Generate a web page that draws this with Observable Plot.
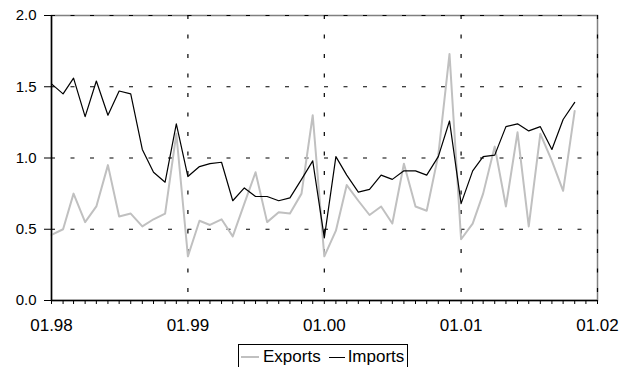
<!DOCTYPE html>
<html>
<head>
<meta charset="utf-8">
<script src="https://cdn.jsdelivr.net/npm/d3@7"></script>
<script src="https://cdn.jsdelivr.net/npm/@observablehq/plot@0.6"></script>
<style>
  html, body { margin: 0; padding: 0; background: #fff; }
  body { width: 622px; height: 367px; overflow: hidden; font-family: "Liberation Sans", Arial, sans-serif; }
  #legend {
    position: absolute; left: 238px; top: 344px; width: 170px; height: 26px;
    border: 1px solid #000; box-sizing: border-box; background: #fff;
    display: flex; align-items: center; padding-left: 2px;
    font-size: 17px; color: #000; white-space: nowrap;
  }
  #legend .sw { display: inline-block; height: 0; }
</style>
</head>
<body>
<div id="chart"></div>
<div id="legend">
  <span class="sw" style="width:18px;border-top:2px solid #c0c0c0;margin-right:4px"></span><span>Exports</span>
  <span class="sw" style="width:16px;border-top:1.5px solid #000;margin-left:8px;margin-right:3px"></span><span>Imports</span>
</div>
<script>
// Monthly series, starting January 1998
const startYear = 1998;
const exports = [0.46,0.50,0.75,0.55,0.66,0.95,0.59,0.61,0.52,0.57,0.61,1.17,
                 0.31,0.56,0.53,0.57,0.45,0.68,0.90,0.55,0.62,0.61,0.75,1.30,
                 0.31,0.49,0.81,0.70,0.60,0.66,0.54,0.96,0.66,0.63,1.02,1.73,
                 0.43,0.54,0.75,1.08,0.66,1.18,0.52,1.17,0.98,0.77,1.33];
const imports = [1.52,1.45,1.56,1.29,1.54,1.30,1.47,1.45,1.06,0.90,0.83,1.24,
                 0.87,0.94,0.96,0.97,0.70,0.79,0.73,0.73,0.70,0.72,0.85,0.98,
                 0.44,1.01,0.88,0.76,0.78,0.88,0.85,0.91,0.91,0.88,1.01,1.26,
                 0.68,0.91,1.01,1.02,1.22,1.24,1.19,1.22,1.06,1.27,1.39];
const yTicks = [0, 0.5, 1.0, 1.5, 2.0];
const yearTicks = [1998, 1999, 2000, 2001, 2002];

const month = i => new Date(Date.UTC(startYear, i, 1));
const data = [];
exports.forEach((v, i) => data.push({date: month(i), value: v, series: "Exports"}));
imports.forEach((v, i) => data.push({date: month(i), value: v, series: "Imports"}));

const yearDates = yearTicks.map(y => new Date(Date.UTC(y, 0, 1)));
const monthTicks = d3.utcMonth.range(yearDates[0], d3.utcDay.offset(yearDates[yearDates.length - 1], 1));

const chart = Plot.plot({
  width: 622,
  height: 342,
  marginLeft: 51,
  marginRight: 25,
  marginTop: 15,
  marginBottom: 42,
  style: {fontFamily: "'Liberation Sans', Arial, sans-serif", fontSize: "15px", color: "#000", background: "#fff"},
  x: {type: "utc", domain: [yearDates[0], yearDates[yearDates.length - 1]]},
  y: {domain: [0, 2]},
  marks: [
    Plot.frame({stroke: "#808080", strokeWidth: 1.5}),
    Plot.ruleY(yTicks.slice(1), {stroke: "#000", strokeDasharray: "4,15.5", strokeWidth: 1.2}),
    Plot.ruleX(yearDates.slice(1), {stroke: "#000", strokeDasharray: "4,15.5", strokeWidth: 1.2}),
    Plot.lineY(data.filter(d => d.series === "Exports"), {x: "date", y: "value", stroke: "#c0c0c0", strokeWidth: 2}),
    Plot.lineY(data.filter(d => d.series === "Imports"), {x: "date", y: "value", stroke: "#000", strokeWidth: 1.2}),
    Plot.ruleX([yearDates[0]], {stroke: "#000", strokeWidth: 1.5}),
    Plot.ruleY([0], {stroke: "#000", strokeWidth: 1.5}),
    Plot.axisY({ticks: yTicks, tickFormat: d3.format(".1f"), tickSize: 7, tickPadding: 8, label: null, fontSize: 15}),
    Plot.axisX({ticks: monthTicks, tickFormat: () => "", tickSize: 4, label: null}),
    Plot.axisX({ticks: yearDates, tickFormat: d3.utcFormat("%m.%y"), tickSize: 0, tickPadding: 18, label: null, fontSize: 17})
  ]
});
document.getElementById("chart").appendChild(chart);
</script>
</body>
</html>
